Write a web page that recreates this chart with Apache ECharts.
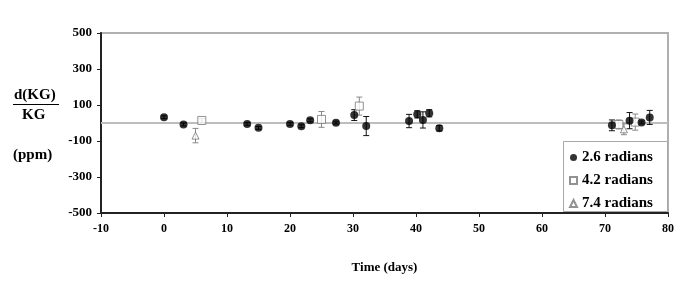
<!DOCTYPE html>
<html>
<head>
<meta charset="utf-8">
<script src="https://cdn.jsdelivr.net/npm/echarts@6/dist/echarts.min.js"></script>
<style>
html,body{margin:0;padding:0;background:#fff;}
#chart{width:692px;height:306px;}
</style>
</head>
<body>
<div id="chart"></div>
<script>
// ---- data ----
const seriesNames = ['2.6 radians', '4.2 radians', '7.4 radians'];

const s26X   = [0, 3.1, 13.2, 15, 20, 21.8, 23.2, 27.3, 30.2, 32.1, 38.9, 40.2, 41.1, 42.1, 43.7, 71.1, 73.9, 75.8, 77.1];
const s26Y   = [32, -8, -5, -27, -5, -18, 15, 2, 44, -17, 11, 48, 17, 54, -29, -13, 13, 3, 31];
const s26Err = [8, 8, 8, 8, 8, 8, 8, 8, 30, 53, 37, 20, 45, 20, 15, 30, 45, 8, 39];

const s42X   = [6.0, 25.0, 31.0, 72.2, 74.8];
const s42Y   = [14, 20, 94, -8, 5];
const s42Err = [10, 44, 50, 25, 45];

const s74X   = [5.0, 73.0];
const s74Y   = [-70, -35];
const s74Err = [40, 30];

const xTicks = [-10, 0, 10, 20, 30, 40, 50, 60, 70, 80];
const yTicks = [-500, -300, -100, 100, 300, 500];

// ---- build ----
function pts(xs, ys) { return xs.map((x, i) => [x, ys[i]]); }
function errPts(xs, ys, es) { return xs.map((x, i) => [x, ys[i], es[i]]); }

const FONT = 'Liberation Serif';

function errSeries(data, color) {
  return {
    type: 'custom',
    silent: true,
    z: 2,
    data: data,
    renderItem: function (params, api) {
      const x = api.value(0), y = api.value(1), e = api.value(2);
      const t = api.coord([x, y + e]);
      const b = api.coord([x, y - e]);
      const hw = 3;
      const st = { stroke: color, lineWidth: 1 };
      return {
        type: 'group',
        children: [
          { type: 'line', shape: { x1: t[0], y1: t[1], x2: b[0], y2: b[1] }, style: st },
          { type: 'line', shape: { x1: t[0] - hw, y1: t[1], x2: t[0] + hw, y2: t[1] }, style: st },
          { type: 'line', shape: { x1: b[0] - hw, y1: b[1], x2: b[0] + hw, y2: b[1] }, style: st }
        ]
      };
    }
  };
}

const chart = echarts.init(document.getElementById('chart'));
chart.setOption({
  animation: false,
  backgroundColor: '#fff',
  grid: {
    left: 101, right: 24, top: 33, bottom: 93,
    show: true, borderColor: '#b0b0b0', borderWidth: 2
  },
  xAxis: {
    type: 'value', min: xTicks[0], max: xTicks[xTicks.length - 1], interval: 10,
    name: 'Time (days)', nameLocation: 'middle', nameGap: 48,
    nameTextStyle: { fontFamily: FONT, fontWeight: 'bold', fontSize: 13, color: '#000' },
    axisLine: { show: true, onZero: false, lineStyle: { color: '#222', width: 2 } },
    axisTick: { show: true, inside: false, length: 4, lineStyle: { color: '#222' } },
    axisLabel: { fontFamily: FONT, fontWeight: 'bold', fontSize: 12, color: '#000', margin: 10 },
    splitLine: { show: false }
  },
  yAxis: {
    type: 'value', min: yTicks[0], max: yTicks[yTicks.length - 1], interval: 200,
    axisLine: { show: true, onZero: false, lineStyle: { color: '#222', width: 2 } },
    axisTick: { show: true, inside: false, length: 4, lineStyle: { color: '#222' } },
    axisLabel: { fontFamily: FONT, fontWeight: 'bold', fontSize: 13, color: '#000', margin: 9 },
    splitLine: { show: false }
  },
  legend: {
    data: seriesNames,
    orient: 'vertical',
    left: 566, top: 147,
    z: 20,
    itemWidth: 7, itemHeight: 7, itemGap: 8,
    padding: [3, 4, 3, 3],
    textStyle: { fontFamily: FONT, fontWeight: 'bold', fontSize: 15, color: '#000' }
  },
  graphic: [
    { type: 'rect', z: 0, shape: { x: 563.5, y: 141.5, width: 104, height: 70 },
      style: { fill: '#fff', stroke: '#a8a8a8', lineWidth: 1 } },
    { type: 'text', left: 14, top: 88, style: { text: 'd(KG)', font: 'bold 15px "Liberation Serif"', fill: '#000' } },
    { type: 'line', shape: { x1: 13, y1: 104.5, x2: 59, y2: 104.5 }, style: { stroke: '#000', lineWidth: 1 } },
    { type: 'text', left: 22, top: 108, style: { text: 'KG', font: 'bold 15px "Liberation Serif"', fill: '#000' } },
    { type: 'text', left: 13, top: 148, style: { text: '(ppm)', font: 'bold 15px "Liberation Serif"', fill: '#000' } }
  ],
  series: [
    errSeries(errPts(s26X, s26Y, s26Err), '#111'),
    errSeries(errPts(s42X, s42Y, s42Err), '#888'),
    errSeries(errPts(s74X, s74Y, s74Err), '#888'),
    {
      name: seriesNames[0], type: 'scatter', z: 4,
      symbol: 'circle', symbolSize: 8,
      itemStyle: { color: '#000' },
      data: pts(s26X, s26Y),
      markLine: {
        silent: true, symbol: 'none', z: 1,
        label: { show: false },
        lineStyle: { color: '#bdbdbd', width: 2, type: 'solid' },
        data: [{ yAxis: 0 }]
      }
    },
    {
      name: seriesNames[1], type: 'scatter', z: 3,
      symbol: 'rect', symbolSize: 8,
      itemStyle: { color: '#fff', borderColor: '#777', borderWidth: 1 },
      data: pts(s42X, s42Y)
    },
    {
      name: seriesNames[2], type: 'scatter', z: 3,
      symbol: 'triangle', symbolSize: 7,
      itemStyle: { color: '#fff', borderColor: '#777', borderWidth: 1 },
      data: pts(s74X, s74Y)
    }
  ]
});
</script>
</body>
</html>
